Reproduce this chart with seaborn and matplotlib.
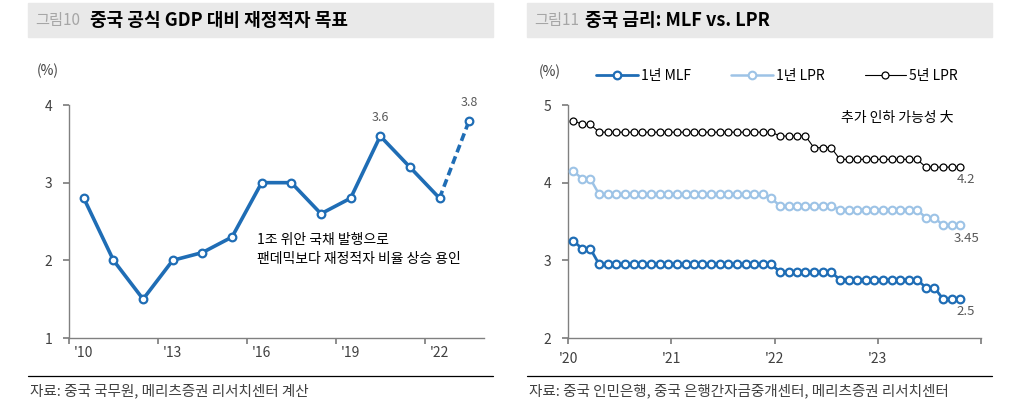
import matplotlib
matplotlib.use("Agg")
import matplotlib.pyplot as plt
from matplotlib.patches import Rectangle
from matplotlib.lines import Line2D
import seaborn as sns
import pandas as pd

sns.set_theme(style="white")
plt.rcParams['font.family'] = ['Noto Sans CJK KR', 'DejaVu Sans']

# ---------------- data ----------------
years = [2010, 2011, 2012, 2013, 2014, 2015, 2016, 2017, 2018, 2019, 2020, 2021, 2022, 2023]
deficit = [2.8, 2.0, 1.5, 2.0, 2.1, 2.3, 3.0, 3.0, 2.6, 2.8, 3.6, 3.2, 2.8, 3.8]
left_tick_labels = ["'10", "'13", "'16", "'19", "'22"]

months = pd.date_range("2020-01-01", "2023-10-01", freq="MS") + pd.Timedelta(days=19)
mlf_1y = [3.25, 3.15, 3.15,
          2.95, 2.95, 2.95, 2.95, 2.95, 2.95, 2.95, 2.95, 2.95,
          2.95, 2.95, 2.95, 2.95, 2.95, 2.95, 2.95, 2.95, 2.95, 2.95, 2.95, 2.95,
          2.85, 2.85, 2.85, 2.85, 2.85, 2.85, 2.85, 2.75, 2.75, 2.75, 2.75, 2.75,
          2.75, 2.75, 2.75, 2.75, 2.75, 2.65, 2.65, 2.50, 2.50, 2.50]
lpr_1y = [4.15, 4.05, 4.05,
          3.85, 3.85, 3.85, 3.85, 3.85, 3.85, 3.85, 3.85, 3.85,
          3.85, 3.85, 3.85, 3.85, 3.85, 3.85, 3.85, 3.85, 3.85, 3.85, 3.85, 3.80,
          3.70, 3.70, 3.70, 3.70, 3.70, 3.70, 3.70, 3.65, 3.65, 3.65, 3.65, 3.65,
          3.65, 3.65, 3.65, 3.65, 3.65, 3.55, 3.55, 3.45, 3.45, 3.45]
lpr_5y = [4.80, 4.75, 4.75,
          4.65, 4.65, 4.65, 4.65, 4.65, 4.65, 4.65, 4.65, 4.65,
          4.65, 4.65, 4.65, 4.65, 4.65, 4.65, 4.65, 4.65, 4.65, 4.65, 4.65, 4.65,
          4.60, 4.60, 4.60, 4.60, 4.45, 4.45, 4.45, 4.30, 4.30, 4.30, 4.30, 4.30,
          4.30, 4.30, 4.30, 4.30, 4.30, 4.20, 4.20, 4.20, 4.20, 4.20]
right_tick_labels = ["'20", "'21", "'22", "'23", ""]

BLUE = "#1F6DB5"
LBLUE = "#9DC3E6"
GRAY = "#808080"
TXT = "#404040"

fig = plt.figure(figsize=(10.24, 4.05), dpi=100)
W, H = 1024, 405

def fx(px):
    return px / W

def fy(py):
    return 1 - py / H

# ---------------- title bars ----------------
for x0, x1, num, title, off in [(28, 493, "그림10", "중국 공식 GDP 대비 재정적자 목표", 62),
                                (527, 992, "그림11", "중국 금리: MLF vs. LPR", 58)]:
    fig.patches.append(Rectangle((fx(x0), fy(37)), fx(x1 - x0), 34 / H,
                                 transform=fig.transFigure, color="#E9E9E9", zorder=0))
    fig.text(fx(x0 + 7), fy(20), num, fontsize=11, color="#A6A6A6", va="center", ha="left",
             fontweight="medium")
    fig.text(fx(x0 + off), fy(20), title, fontsize=13, fontweight="bold", color="black",
             va="center", ha="left")
    fig.lines.append(Line2D([fx(x0), fx(x1)], [fy(376), fy(376)], transform=fig.transFigure,
                            color="black", lw=0.9))

fig.text(fx(30), fy(391), "자료: 중국 국무원, 메리츠증권 리서치센터 계산", fontsize=10.5,
         color=TXT, va="center", ha="left")
fig.text(fx(529), fy(391), "자료: 중국 인민은행, 중국 은행간자금중개센터, 메리츠증권 리서치센터",
         fontsize=10.5, color=TXT, va="center", ha="left")

# ---------------- left chart ----------------
axL = fig.add_axes([fx(69), fy(338), fx(484 - 69), (338 - 105) / H])
idx = list(range(len(years)))
dfL = pd.DataFrame({"i": idx[:-1], "v": deficit[:-1]})
sns.lineplot(data=dfL, x="i", y="v", ax=axL, color=BLUE, lw=2.6, marker="o",
             markersize=5.5, markerfacecolor="white", markeredgecolor=BLUE,
             markeredgewidth=1.6, zorder=3)
dfD = pd.DataFrame({"i": idx[-2:], "v": deficit[-2:]})
sns.lineplot(data=dfD, x="i", y="v", ax=axL, color=BLUE, lw=2.6, linestyle=(0, (2.2, 1.2)),
             zorder=2)
axL.plot(idx[-1:], deficit[-1:], marker="o", markersize=5.5, markerfacecolor="white",
         markeredgecolor=BLUE, markeredgewidth=1.6, lw=0, zorder=4)
axL.set_xlim(-0.5, len(years) - 0.5)
axL.set_ylim(1, 4)
axL.set_yticks([1, 2, 3, 4])
axL.set_xticks([-0.5, 2.5, 5.5, 8.5, 11.5])
axL.set_xticklabels([])
axL.set_xticks([0, 3, 6, 9, 12], minor=True)
axL.set_xticklabels(left_tick_labels, minor=True)
axL.tick_params(axis="x", which="minor", length=0, pad=6, labelsize=10, labelcolor=TXT)
axL.tick_params(axis="x", which="major", length=4, color=GRAY, direction="out", bottom=True)
axL.tick_params(axis="y", length=4, color=GRAY, direction="out", left=True, labelsize=10,
                labelcolor=TXT, pad=8)
axL.set_xlabel("")
axL.set_ylabel("")
for s in ["top", "right"]:
    axL.spines[s].set_visible(False)
for s in ["left", "bottom"]:
    axL.spines[s].set_color(GRAY)
    axL.spines[s].set_linewidth(1.0)
axL.text(idx[10], 3.6 + 0.15, "3.6", ha="center", va="bottom", fontsize=9, color="#595959")
axL.text(idx[13], 3.8 + 0.15, "3.8", ha="center", va="bottom", fontsize=9, color="#595959")
axL.text(5.85, 2.14, "1조 위안 국채 발행으로\n팬데믹보다 재정적자 비율 상승 용인", ha="left",
         va="center", fontsize=10, color="black", linespacing=1.45)
fig.text(fx(37), fy(71), "(%)", fontsize=10, color=TXT, va="center", ha="left")

# ---------------- right chart ----------------
axR = fig.add_axes([fx(568), fy(338), fx(981 - 568), (338 - 105) / H])
dfR = pd.DataFrame({"date": months, "mlf": mlf_1y, "lpr1": lpr_1y, "lpr5": lpr_5y})
sns.lineplot(data=dfR, x="date", y="lpr5", ax=axR, color="black", lw=0.8, marker="o",
             markersize=5, markerfacecolor="white", markeredgecolor="black",
             markeredgewidth=0.9, label="5년 LPR", zorder=3)
sns.lineplot(data=dfR, x="date", y="lpr1", ax=axR, color=LBLUE, lw=1.8, marker="o",
             markersize=5.5, markerfacecolor="white", markeredgecolor=LBLUE,
             markeredgewidth=1.5, label="1년 LPR", zorder=3)
sns.lineplot(data=dfR, x="date", y="mlf", ax=axR, color=BLUE, lw=2.0, marker="o",
             markersize=5.5, markerfacecolor="white", markeredgecolor=BLUE,
             markeredgewidth=1.6, label="1년 MLF", zorder=3)
axR.set_xlim(pd.Timestamp("2020-01-01"), pd.Timestamp("2024-01-01"))
axR.set_ylim(2, 5)
axR.set_yticks([2, 3, 4, 5])
yt = [pd.Timestamp(f"{y}-01-01") for y in [2020, 2021, 2022, 2023, 2024]]
axR.set_xticks(yt)
axR.set_xticklabels(right_tick_labels)
axR.tick_params(axis="x", length=4, color=GRAY, direction="out", bottom=True, labelsize=10,
                labelcolor=TXT, pad=6)
axR.tick_params(axis="y", length=4, color=GRAY, direction="out", left=True, labelsize=10,
                labelcolor=TXT, pad=8)
axR.set_xlabel("")
axR.set_ylabel("")
for s in ["top", "right"]:
    axR.spines[s].set_visible(False)
for s in ["left", "bottom"]:
    axR.spines[s].set_color(GRAY)
    axR.spines[s].set_linewidth(1.0)
last = months[-1]
axR.text(last + pd.Timedelta(days=20), lpr_5y[-1] - 0.08, "4.2", ha="center", va="top",
         fontsize=9.5, color="#595959")
axR.text(last + pd.Timedelta(days=20), lpr_1y[-1] - 0.08, "3.45", ha="center", va="top",
         fontsize=9.5, color="#595959")
axR.text(last + pd.Timedelta(days=20), mlf_1y[-1] - 0.08, "2.5", ha="center", va="top",
         fontsize=9.5, color="#595959")
axR.text(pd.Timestamp("2023-03-10"), 4.83, "추가 인하 가능성 大", ha="center", va="center",
         fontsize=10, color="black")
fig.text(fx(539), fy(72), "(%)", fontsize=10, color=TXT, va="center", ha="left")

h, l = axR.get_legend_handles_labels()
order = [2, 1, 0]
leg = axR.legend([h[i] for i in order], [l[i] for i in order], ncol=3, frameon=False,
                 loc="center", bbox_to_anchor=(fx(777), fy(76)),
                 bbox_transform=fig.transFigure, fontsize=10, handlelength=3.0,
                 columnspacing=2.9, handletextpad=0.2)
for t in leg.get_texts():
    t.set_color("black")

fig.savefig("out.png", dpi=100)
